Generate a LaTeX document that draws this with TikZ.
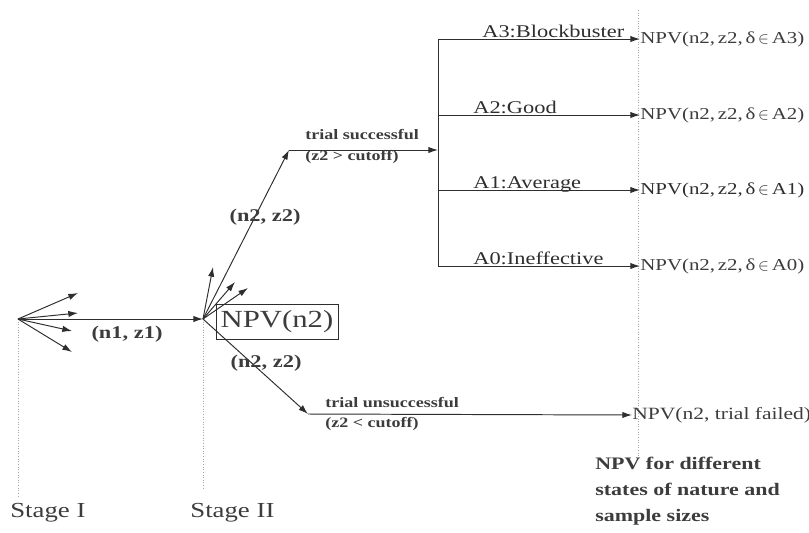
\documentclass[tikz,border=0pt]{standalone}
\usepackage{fontspec}
\setmainfont{Liberation Serif}[FakeStretch=1.25]
\usetikzlibrary{arrows.meta}
\definecolor{ink}{HTML}{2E2E2E}
\definecolor{txt}{HTML}{3C3C3C}
\definecolor{guide}{HTML}{A8A8A8}

\begin{document}
\begin{tikzpicture}[x=0.02cm,y=-0.02cm]

    \tikzset{
      branch/.style={
        draw=ink,
        line width=0.55pt,
        -{Latex[length=5.5pt,width=3.6pt]},
      },
      guideline/.style={draw=guide, densely dotted, line width=0.5pt},
      stagelbl/.style={text=txt, font=\fontsize{12.2}{14}\selectfont, inner sep=0pt, anchor=base west},
      edgelbl/.style={text=txt, font=\bfseries\fontsize{10.2}{12}\selectfont, inner sep=0pt},
      triallbl/.style={text=txt, font=\bfseries\fontsize{8.2}{10}\selectfont, inner sep=0pt, anchor=west},
      statelbl/.style={text=ink, font=\fontsize{10.2}{12}\selectfont, inner sep=0pt, anchor=base west},
      payoff/.style={text=txt, font=\fontsize{9.5}{11}\selectfont, inner sep=0pt, anchor=west},
    }
    \useasboundingbox (0,0) rectangle (809,532);

    % decision points
    \coordinate (s1) at (18,319);
    \coordinate (s2) at (203,319);
    \coordinate (up) at (289,150);
    \coordinate (fork) at (438,150);
    \coordinate (down) at (308,414);
    \coordinate (forktop) at (438,39);
    \coordinate (forkbot) at (438,266);

    % stage guides
    \draw[guideline] (s1) -- (18,496);
    \draw[guideline] (s2) -- (203,490);
    \draw[guideline] (638,10) -- (638,460);

    % stage I
    \foreach \x/\y in {78/293, 78/313, 72/331, 72/352}
      \draw[branch] (s1) -- (\x,\y);
    \draw[branch] (s1) -- (s2);
    \node[edgelbl] (n1z1) at (127,334) {(n1, z1)};

    % stage II
    \foreach \x/\y in {213/267, 235/282, 248/288}
      \draw[branch] (s2) -- (\x,\y);
    \node[draw=ink, line width=0.55pt, minimum width=2.44cm, minimum height=0.7cm,
      inner sep=0pt, text=txt, font=\fontsize{14}{16}\selectfont] (npv2) at (277,322) {NPV(n2)};

    \draw[branch] (s2) -- (up);
    \node[edgelbl] (upz) at (265,217) {(n2, z2)};
    \draw[branch] (up) -- (fork);
    \node[triallbl] (succ) at (305,135) {trial successful};
    \node[triallbl] (succz) at (305,157) {(z2 > cutoff)};

    \draw[branch] (s2) -- (down);
    \node[edgelbl] (downz) at (266,363) {(n2, z2)};
    \node[triallbl] (fail) at (325,403) {trial unsuccessful};
    \node[triallbl] (failz) at (325,424) {(z2 < cutoff)};
    \node[payoff, font=\fontsize{9.8}{11}\selectfont] (npvfail) at (632,415) {NPV(n2, trial failed)};
    \draw[branch] (down) -- (npvfail.west);

    % states of nature
    \draw[ink, line width=0.55pt] (forktop) -- (forkbot);
    \foreach \y/\k/\lx/\lab/\col in {39/3/482/A3:Blockbuster/txt, 115/2/473/A2:Good/txt,
        190/1/473/A1:Average/ink, 266/0/473/A0:Ineffective/txt} {
      \coordinate (a\k) at (438,\y);
      \node[payoff, text=\col] (v\k) at (640,\y) {NPV(n2,\,z2,\,δ\,$\in$\,A\k)};
      \draw[branch] (a\k) -- (v\k.west);
      \node[statelbl] (l\k) at (\lx,\y-2) {\lab};
    }

    % captions
    \node[stagelbl] (st1) at (10,517) {Stage I};
    \node[stagelbl] (st2) at (190,517) {Stage II};
    \node[text=txt, font=\bfseries\fontsize{10}{14.8}\selectfont, inner sep=0pt,
      anchor=north west, align=left] (note) at (595,457)
      {NPV for different\\states of nature and\\sample sizes};

\end{tikzpicture}
\end{document}
